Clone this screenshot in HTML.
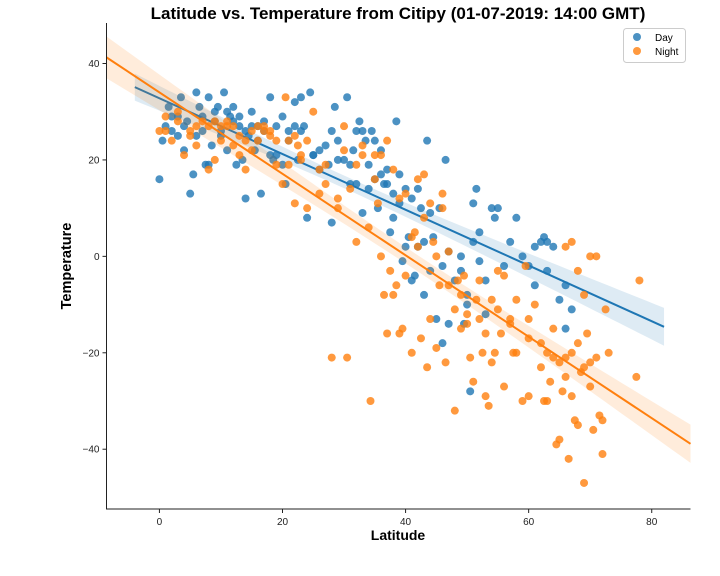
<!DOCTYPE html>
<html><head><meta charset="utf-8">
<style>
html,body{margin:0;padding:0;background:#fff;}
svg{display:block;font-family:"Liberation Sans","DejaVu Sans",sans-serif;}
</style></head>
<body>
<svg id="chart" width="720" height="576" viewBox="0 0 720 576">
<text x="398" y="19" text-anchor="middle" font-size="17" font-weight="bold" fill="#000">Latitude vs. Temperature from Citipy (01-07-2019: 14:00 GMT)</text>
<g id="plot"></g>
<text x="398" y="540" text-anchor="middle" font-size="14" font-weight="bold">Latitude</text>
<text x="71" y="266" text-anchor="middle" font-size="14.5" font-weight="bold" transform="rotate(-90 71 266)">Temperature</text>
<g>
<rect x="623.5" y="28.5" width="62" height="34" rx="3" fill="#fff" fill-opacity="0.8" stroke="#ccc"/>
<g><circle cx="637" cy="37" r="4" fill="#1f77b4" fill-opacity="0.8"/><text x="655" y="41" font-size="10">Day</text></g>
<g><circle cx="637" cy="51" r="4" fill="#ff7f0e" fill-opacity="0.8"/><text x="655" y="55" font-size="10">Night</text></g>
</g>
</svg>
<script>
const xTicks=[0,20,40,60,80];
const yTicks=[40,20,0,-20,-40];
const yTickLabels=["40","20","0","\u221220","\u221240"];
const dayLat=[0,0.5,1,1.5,2,3,3.5,4,4.5,5,5.5,6,6.5,7,7.5,8,8.5,9,9.5,10,10.5,11,11.5,12,12.5,13,13.5,14,14.5,15,15.5,16,16.5,17,18,18.5,19,20,20.5,21,22,22.5,23,23.5,24,24.5,25,26,27,27.5,28,28.5,29,30,30.5,31,31.5,32,32.5,33,33.5,34,34.5,35,35.5,36,36.5,37,37.5,38,38.5,39,39.5,40,40.5,41,41.5,42,42.5,43,43.5,44,44.5,45,45.5,46,46.5,47,48,49,49.5,50,50.5,51,51.5,52,53,54,54.5,55,56,57,58,59,60,61,62,62.5,63,64,65,66,67,3,6,8,10,12,14,16,18,20,21,23,25,28,31,33,35,36,38,40,42,44,46,49,51,53,2,4,7,9,11,13,15,17,19,22,26,29,32,34,37,39,41,43,47,50,52,61,63,66];
const dayTemp=[16,24,27,31,26,29,33,22,28,13,17,34,31,26,19,33,23,28,31,25,34,22,29,31,19,27,20,12,25,30,22,27,13,26,33,20,27,29,15,24,32,20,33,27,8,34,21,18,23,19,7,31,24,20,33,15,22,15,28,9,24,19,26,16,10,22,15,18,5,13,28,17,-1,2,4,12,-4,2,10,-8,24,-3,4,-13,10,-18,20,1,-5,0,-14,-8,-28,11,14,5,-12,10,8,10,-2,3,8,0,-2,-6,3,4,3,2,-9,-6,-11,25,25,19,26,28,26,24,21,19,26,26,21,26,19,26,24,17,8,14,14,9,-2,-3,3,-5,29,27,29,30,30,29,27,28,21,27,22,20,26,14,15,11,-5,3,-14,-10,-1,2,-3,-15];
const nightLat=[0,1,2,3,4,5,6,7,8,9,10,11,12,13,14,15,16,17,18,19,20,20.5,21,22,22.5,23,24,25,26,27,28,29,30,30.5,31,32,33,34,34.3,35,35.5,36,36.5,37,37.5,38,38.5,39,39.5,40,41,41.5,42,42.5,43,43.5,44,44.5,45,45.5,46,46.5,47,48,48.5,49,49.5,50,50.5,51,51.5,52,52.5,53,53.5,54,54.5,55,55.5,56,57,57.5,58,59,59.5,60,61,62,62.5,63,63.5,64,64.5,65,65.5,66,66.5,67,67.5,68,68.5,69,69.5,70,70.5,71,71.5,72,72.5,73,77.5,78,66,67,68,69,70,71,5,8,10,12,14,16,18,21,23,26,29,32,35,37,39,41,43,45,47,49,52,54,56,58,60,62,64,66,68,70,72,1,3,6,9,11,13,15,17,19,22,24,27,30,33,36,38,40,42,44,46,48,50,53,55,57,60,63,65,67,69];
const nightTemp=[26,29,24,30,21,26,23,28,18,20,27,28,23,21,18,26,24,27,26,19,15,33,24,11,23,20,10,30,18,15,-21,12,22,-21,14,3,21,6,-30,21,11,0,-8,-16,-3,-8,-6,-16,-15,-4,-20,5,2,-17,17,-23,-13,3,-19,-6,13,-22,-6,-32,-5,-15,-4,-12,-21,-26,-9,-13,-20,-29,-31,-9,-20,-11,-16,-27,-14,-20,-9,-30,-2,-13,-10,-18,-30,-20,-26,-15,-39,-38,-28,-21,-42,-20,-34,-18,-24,-47,-16,-22,-36,-21,-33,-41,-11,-20,-25,-5,2,3,-3,-8,0,0,25,27,24,27,24,27,25,19,21,13,10,19,16,24,12,4,8,0,1,-8,-5,-22,-4,-20,-17,-23,-21,-25,-35,-27,-34,26,28,27,28,27,25,22,26,24,25,24,19,27,23,21,18,13,16,11,10,-11,-14,-16,-3,-13,-29,-30,-22,-29,-23];
const dayLineExtent=[-4,82];
const nightLineExtent=[-8.6,86.3];

const NS="http://www.w3.org/2000/svg";
const L=106.5,R=690.5,T=23,B=509;
const xmin=-8.6,xmax=86.3,ymin=-52.4,ymax=48.4;
function sx(v){return L+(v-xmin)/(xmax-xmin)*(R-L);}
function sy(v){return B-(v-ymin)/(ymax-ymin)*(B-T);}
const plot=document.getElementById('plot');
function mk(tag,attrs,parent){const e=document.createElementNS(NS,tag);for(const k in attrs)e.setAttribute(k,attrs[k]);(parent||plot).appendChild(e);return e;}

function regress(xs,ys){
  const n=xs.length;let mx=0,my=0;for(let i=0;i<n;i++){mx+=xs[i];my+=ys[i];}mx/=n;my/=n;
  let sxx=0,sxy=0;for(let i=0;i<n;i++){sxx+=(xs[i]-mx)**2;sxy+=(xs[i]-mx)*(ys[i]-my);}
  const b=sxy/sxx,a=my-b*mx;let sse=0;for(let i=0;i<n;i++)sse+=(ys[i]-a-b*xs[i])**2;
  const s=Math.sqrt(sse/(n-2));return {a,b,s,n,mx,sxx};
}
function drawSeries(xs,ys,color,ext,name){
  const g=mk('g',{});
  
  
  xs.forEach((x,i)=>{
    const c=mk('circle',{cx:sx(x),cy:sy(ys[i]),r:4,fill:color,'fill-opacity':0.8},g);
    
    
  });
  const r=regress(xs,ys);
  const up=[],lo=[],N=60;
  for(let k=0;k<=N;k++){
    const x=ext[0]+(ext[1]-ext[0])*k/N;
    const y=r.a+r.b*x;
    const se=1.97*r.s*Math.sqrt(1/r.n+(x-r.mx)**2/r.sxx);
    up.push(sx(x)+','+sy(y+se));lo.unshift(sx(x)+','+sy(y-se));
  }
  const band=mk('polygon',{points:up.concat(lo).join(' '),fill:color,'fill-opacity':0.15,stroke:'none'},g);
  
  
  const ln=mk('line',{x1:sx(ext[0]),y1:sy(r.a+r.b*ext[0]),x2:sx(ext[1]),y2:sy(r.a+r.b*ext[1]),stroke:color,'stroke-width':2},g);
  
  
}
drawSeries(dayLat,dayTemp,'#1f77b4',dayLineExtent,'day');
drawSeries(nightLat,nightTemp,'#ff7f0e',nightLineExtent,'night');

const ax=mk('g',{});


mk('line',{x1:L,y1:T,x2:L,y2:B+0.5,stroke:'#222','stroke-width':1},ax);
mk('line',{x1:L,y1:B,x2:R,y2:B,stroke:'#222','stroke-width':1},ax);
xTicks.forEach(v=>{
  const x=sx(v);
  mk('line',{x1:x,y1:B,x2:x,y2:B+4,stroke:'#222'},ax);
  const t=mk('text',{x:x,y:B+16,'text-anchor':'middle','font-size':10,fill:'#222'},ax);
  t.textContent=String(v);
  
  
});
yTicks.forEach((v,i)=>{
  const y=sy(v);
  mk('line',{x1:L-4,y1:y,x2:L,y2:y,stroke:'#222'},ax);
  const t=mk('text',{x:L-7,y:y+3.5,'text-anchor':'end','font-size':10,fill:'#222'},ax);
  t.textContent=yTickLabels[i];
  
  
});
</script>
</body></html>
